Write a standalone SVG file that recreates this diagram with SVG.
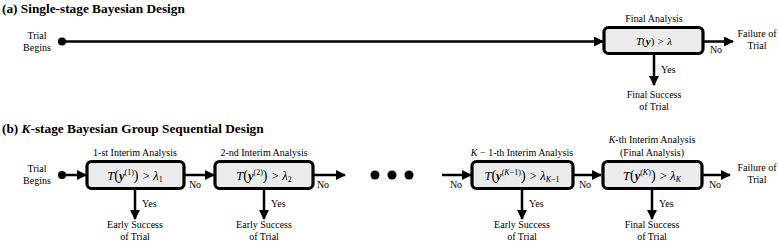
<svg xmlns="http://www.w3.org/2000/svg" width="778" height="243" viewBox="0 0 778 243">
<defs>
<style>
.t{font-family:"Liberation Serif","Times New Roman",serif;font-size:10px;fill:#000}
.ttl{font-family:"Liberation Serif","Times New Roman",serif;font-weight:bold;font-size:13.3px;fill:#000}
.box{fill:#ececec;stroke:#000;stroke-width:3.2}
.ln{stroke:#000;stroke-width:2.5;fill:none}
.m{font-family:"Liberation Serif","Times New Roman",serif;font-style:italic;font-size:11px;fill:#000}
.mb{font-family:"Liberation Serif","Times New Roman",serif;font-style:italic;font-size:12.5px;fill:#000}
.up{font-style:normal}
.b{font-weight:bold}
.pp{font-style:normal;font-size:14px}
</style>
<marker id="ah" viewBox="0 0 10 10" refX="9" refY="5" markerUnits="userSpaceOnUse" markerWidth="10" markerHeight="10" orient="auto">
<path d="M0,0 L10,5 L0,10 z" fill="#000"/>
</marker>
</defs>
<rect width="778" height="243" fill="#fff"/>

<text class="ttl" x="2" y="13">(a) Single-stage Bayesian Design</text>
<text class="ttl" x="2" y="133">(b) <tspan font-style="italic">K</tspan>-stage Bayesian Group Sequential Design</text>

<g id="connectors">
<circle cx="62" cy="41.5" r="4" fill="#000"/>
<line class="ln" x1="62" y1="41.5" x2="603" y2="41.5" marker-end="url(#ah)"/>
<line class="ln" x1="703" y1="41.5" x2="733" y2="41.5" marker-end="url(#ah)"/>
<line class="ln" x1="654" y1="53" x2="654" y2="85" marker-end="url(#ah)"/>
<circle cx="62" cy="175" r="4" fill="#000"/>
<line class="ln" x1="62" y1="175" x2="86" y2="175" marker-end="url(#ah)"/>
<line class="ln" x1="184" y1="175" x2="214" y2="175" marker-end="url(#ah)"/>
<line class="ln" x1="313" y1="175" x2="345" y2="175" marker-end="url(#ah)"/>
<line class="ln" x1="442" y1="175" x2="471" y2="175" marker-end="url(#ah)"/>
<line class="ln" x1="573" y1="175" x2="601" y2="175" marker-end="url(#ah)"/>
<line class="ln" x1="702" y1="175" x2="730" y2="175" marker-end="url(#ah)"/>
<line class="ln" x1="135" y1="189" x2="135" y2="219" marker-end="url(#ah)"/>
<line class="ln" x1="264" y1="189" x2="264" y2="219" marker-end="url(#ah)"/>
<line class="ln" x1="522" y1="189" x2="522" y2="219" marker-end="url(#ah)"/>
<line class="ln" x1="652" y1="189" x2="652" y2="219" marker-end="url(#ah)"/>
<circle cx="375" cy="175" r="4.5" fill="#000"/>
<circle cx="392" cy="175" r="4.5" fill="#000"/>
<circle cx="409" cy="175" r="4.5" fill="#000"/>
<text class="t" x="716" y="53" text-anchor="middle">No</text>
<text class="t" x="661" y="73">Yes</text>
<text class="t" x="195" y="188" text-anchor="middle">No</text>
<text class="t" x="323" y="188" text-anchor="middle">No</text>
<text class="t" x="456" y="188" text-anchor="middle">No</text>
<text class="t" x="585" y="188" text-anchor="middle">No</text>
<text class="t" x="715" y="188" text-anchor="middle">No</text>
<text class="t" x="142" y="207">Yes</text>
<text class="t" x="271" y="207">Yes</text>
<text class="t" x="529" y="207">Yes</text>
<text class="t" x="659" y="207">Yes</text>
</g>

<g id="start-a">
<text class="t" x="37" y="39" text-anchor="middle">Trial</text>
<text class="t" x="37" y="51" text-anchor="middle">Begins</text>
</g>
<g id="final-a">
<text class="t" x="654" y="22" text-anchor="middle">Final Analysis</text>
<rect class="box" x="604" y="27.5" width="99" height="26" rx="4.5"/>
<text class="m" x="654" y="45" text-anchor="middle">T<tspan class="up">(</tspan><tspan class="b">y</tspan><tspan class="up">)</tspan> &gt; λ</text>
</g>
<g id="fail-a">
<text class="t" x="757" y="37" text-anchor="middle">Failure of</text>
<text class="t" x="757" y="49" text-anchor="middle">Trial</text>
</g>
<g id="success-a">
<text class="t" x="654" y="98" text-anchor="middle">Final Success</text>
<text class="t" x="654" y="110" text-anchor="middle">of Trial</text>
</g>

<g id="start-b">
<text class="t" x="37" y="172" text-anchor="middle">Trial</text>
<text class="t" x="37" y="184" text-anchor="middle">Begins</text>
</g>
<g id="stage1">
<text class="t" x="135" y="156" text-anchor="middle">1-st Interim Analysis</text>
<rect class="box" x="87" y="161.5" width="97" height="27" rx="4.5"/>
<text class="mb" x="135" y="179.5" text-anchor="middle">T<tspan class="pp">(</tspan><tspan class="b">y</tspan><tspan class="up" font-size="8" dy="-5">(1)</tspan><tspan class="pp" dy="5">)</tspan> &gt; λ<tspan class="up" font-size="8" dy="2">1</tspan></text>
</g>
<g id="stage2">
<text class="t" x="264" y="156" text-anchor="middle">2-nd Interim Analysis</text>
<rect class="box" x="215" y="161.5" width="98" height="27" rx="4.5"/>
<text class="mb" x="264" y="179.5" text-anchor="middle">T<tspan class="pp">(</tspan><tspan class="b">y</tspan><tspan class="up" font-size="8" dy="-5">(2)</tspan><tspan class="pp" dy="5">)</tspan> &gt; λ<tspan class="up" font-size="8" dy="2">2</tspan></text>
</g>
<g id="stageK-1">
<text class="t" x="522" y="156" text-anchor="middle"><tspan font-style="italic">K</tspan> − 1-th Interim Analysis</text>
<rect class="box" x="472" y="161.5" width="101" height="27" rx="4.5"/>
<text class="mb" x="522" y="179.5" text-anchor="middle">T<tspan class="pp">(</tspan><tspan class="b">y</tspan><tspan font-size="8" dy="-5"><tspan class="up">(</tspan>K<tspan class="up">−1)</tspan></tspan><tspan class="pp" dy="5">)</tspan> &gt; λ<tspan font-size="8" dy="2">K<tspan class="up">−1</tspan></tspan></text>
</g>
<g id="stageK">
<text class="t" x="652" y="143" text-anchor="middle"><tspan font-style="italic">K</tspan>-th Interim Analysis</text>
<text class="t" x="652" y="156" text-anchor="middle">(Final Analysis)</text>
<rect class="box" x="603" y="161.5" width="99" height="27" rx="4.5"/>
<text class="mb" x="652" y="179.5" text-anchor="middle">T<tspan class="pp">(</tspan><tspan class="b">y</tspan><tspan font-size="8" dy="-5"><tspan class="up">(</tspan>K<tspan class="up">)</tspan></tspan><tspan class="pp" dy="5">)</tspan> &gt; λ<tspan font-size="8" dy="2">K</tspan></text>
</g>
<g id="fail-b">
<text class="t" x="757" y="171" text-anchor="middle">Failure of</text>
<text class="t" x="757" y="183" text-anchor="middle">Trial</text>
</g>
<g id="early1">
<text class="t" x="135" y="228" text-anchor="middle">Early Success</text>
<text class="t" x="135" y="240" text-anchor="middle">of Trial</text>
</g>
<g id="early2">
<text class="t" x="264" y="228" text-anchor="middle">Early Success</text>
<text class="t" x="264" y="240" text-anchor="middle">of Trial</text>
</g>
<g id="earlyK-1">
<text class="t" x="522" y="228" text-anchor="middle">Early Success</text>
<text class="t" x="522" y="240" text-anchor="middle">of Trial</text>
</g>
<g id="finalK">
<text class="t" x="652" y="228" text-anchor="middle">Final Success</text>
<text class="t" x="652" y="240" text-anchor="middle">of Trial</text>
</g>
</svg>
